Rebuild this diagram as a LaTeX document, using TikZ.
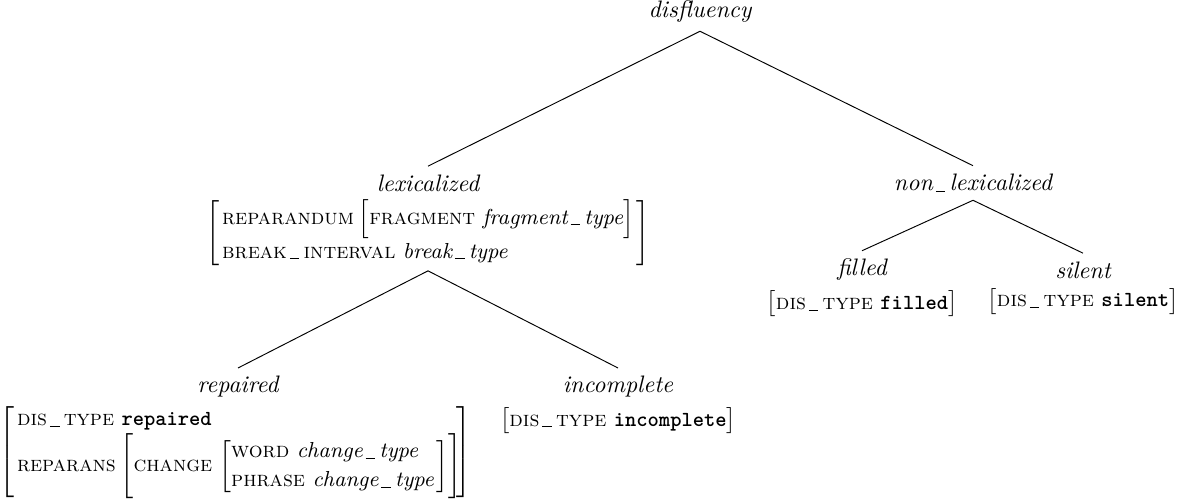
\documentclass[tikz,border=0pt]{standalone}
\usepackage{amsmath}
\usepackage{amssymb}
\usepackage{tikz}
\usetikzlibrary{positioning}
\newcommand{\us}{\kern1.2pt\rule[-0.5pt]{4pt}{0.4pt}\kern1.8pt}
\newcommand{\feat}[1]{\textsc{#1}}
\newcommand{\val}[1]{{\small\ttfamily\bfseries #1}}
\newcommand{\typ}[1]{\textit{#1}}

\begin{document}
\begin{tikzpicture}[x=0.01474cm,y=-0.01474cm,
    cat/.style={font=\itshape},
    avm/.style={inner sep=1.5pt,font=\fontsize{9.1}{12}\selectfont}]
  \useasboundingbox (0,0) rectangle (1187,504);
  \node[cat] (dis) at (700,12) {disfluency};
  \node[cat] (lex) at (428,183) {lexicalized};
  \node[avm,below=-2pt of lex] (lexf) {$\Bigg[\begin{array}{@{\hspace{1pt}}l@{\hspace{1pt}}}
      \text{\feat{reparandum}\hspace{2pt}}\Big[\text{\feat{fragment} \typ{fragment\us type}}\Big]\\
      \text{\feat{break\us interval} \typ{break\us type}}
    \end{array}\Bigg]$};
  \node[cat] (nonlex) at (973,183) {non\us lexicalized};
  \node[cat] (filled) at (862,270) {filled};
  \node[avm,below=-1pt of filled] (filledf) {$\big[\text{\feat{dis\us type} \val{filled}}\big]$};
  \node[cat] (silent) at (1083,270) {silent};
  \node[avm,below=-1pt of silent] (silentf) {$\big[\text{\feat{dis\us type} \val{silent}}\big]$};
  \node[cat] (rep) at (238,387) {repaired};
  \node[avm,below=-2pt of rep,xshift=-1pt] (repf) {$\left[\begin{array}{@{\hspace{1pt}}l@{\hspace{-2pt}}}
      \text{\feat{dis\us type} \val{repaired}}\\
      \text{\feat{reparans}\hspace{2pt}}\Bigg[\text{\feat{change}\hspace{3pt}}\bigg[\begin{array}{@{\hspace{0pt}}l@{\hspace{1pt}}}
        \text{\feat{word} \typ{change\us type}}\\
        \text{\feat{phrase} \typ{change\us type}}
      \end{array}\bigg]\Bigg]
    \end{array}\right]$};
  \node[cat] (inc) at (618,387) {incomplete};
  \node[avm,below=-1pt of inc] (incf) {$\big[\text{\feat{dis\us type} \val{incomplete}}\big]$};
  % branches
  \draw (dis.south) -- (lex.north);
  \draw (dis.south) -- (nonlex.north);
  \draw (lexf.south) -- (rep.north);
  \draw (lexf.south) -- (inc.north);
  \draw (nonlex.south) -- (filled.north);
  \draw (nonlex.south) -- (silent.north);
\end{tikzpicture}
\end{document}
